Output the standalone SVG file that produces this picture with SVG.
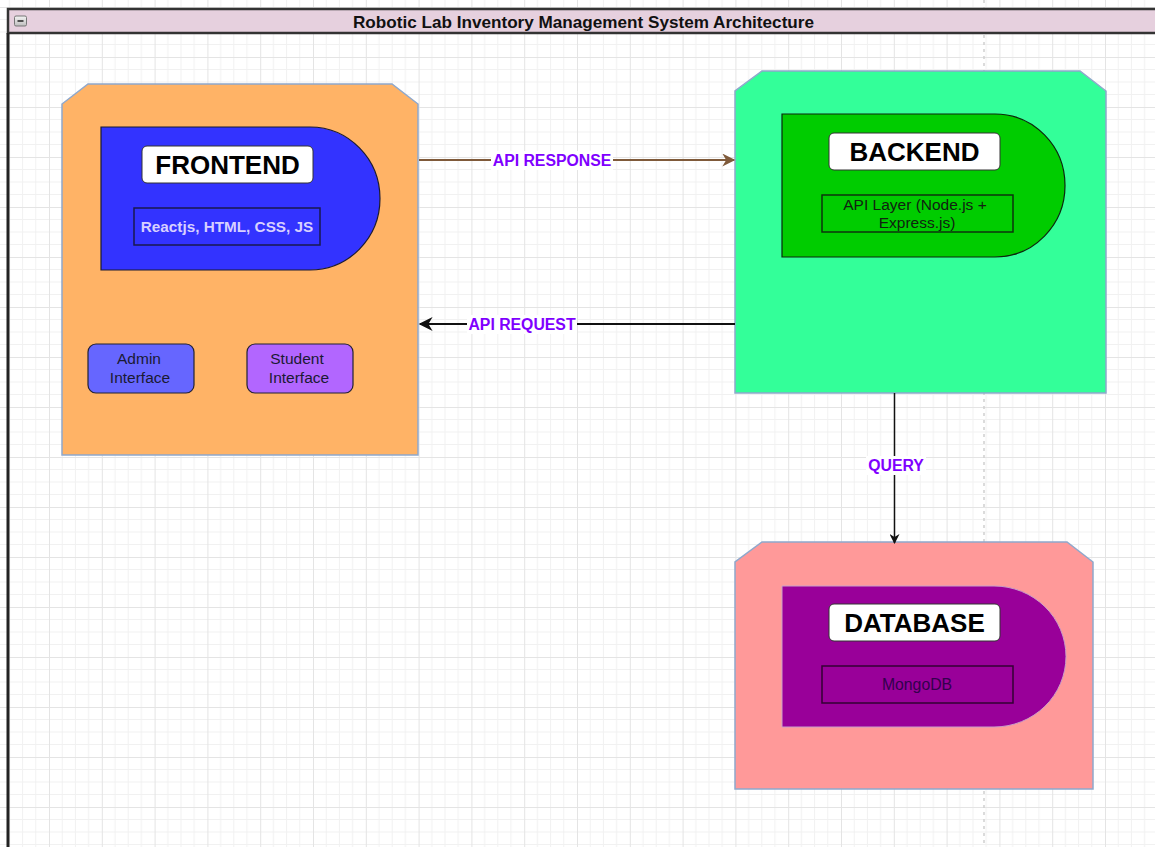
<svg xmlns="http://www.w3.org/2000/svg" width="1155" height="847" viewBox="0 0 1155 847">
<defs>
<style>
.lbl{font-family:"Liberation Sans",Arial,sans-serif}
.outer{stroke:#8fa8cc;stroke-width:1.5}
.head{fill:#ffffff;stroke:#333333;stroke-width:1}
.headtxt{font-family:"Liberation Sans",Arial,sans-serif;font-size:26px;font-weight:bold;fill:#000000;text-anchor:middle}
.edge{font-family:"Liberation Sans",Arial,sans-serif;font-size:15.8px;font-weight:bold;fill:#7f00ff;text-anchor:middle}
.small{font-family:"Liberation Sans",Arial,sans-serif;font-size:15.5px;text-anchor:middle}
</style>
<pattern id="grid" patternUnits="userSpaceOnUse" x="-3.8" y="7" width="52.8" height="50">
<path d="M13.2,0V50M26.4,0V50M39.6,0V50M0,12.5H52.8M0,25H52.8M0,37.5H52.8" stroke="#f1f1f1" stroke-width="1" fill="none"/>
<path d="M0.5,0V50M0,0.5H52.8" stroke="#e4e4e4" stroke-width="1" fill="none"/>
</pattern>
<marker id="arrBrown" viewBox="0 0 10 10" refX="9" refY="5" markerWidth="15" markerHeight="13" markerUnits="userSpaceOnUse" orient="auto">
<path d="M0,0 L10,5 L0,10 L3,5 Z" fill="#7f5a3a"/>
</marker>
<marker id="arrBlack" viewBox="0 0 10 10" refX="9" refY="5" markerWidth="15" markerHeight="14" markerUnits="userSpaceOnUse" orient="auto">
<path d="M0,0 L10,5 L0,10 L3,5 Z" fill="#111111"/>
</marker>
<marker id="arrSmall" viewBox="0 0 10 10" refX="9" refY="5" markerWidth="11" markerHeight="10" markerUnits="userSpaceOnUse" orient="auto">
<path d="M0,0 L10,5 L0,10 L3,5 Z" fill="#111111"/>
</marker>
<linearGradient id="btn" x1="0" y1="0" x2="0" y2="1">
<stop offset="0" stop-color="#f4f4f4"/>
<stop offset="1" stop-color="#bdbdbd"/>
</linearGradient>
</defs>

<rect x="0" y="0" width="1155" height="847" fill="#ffffff"/>
<rect x="0" y="0" width="1155" height="847" fill="url(#grid)"/>
<line x1="984" y1="0" x2="984" y2="847" stroke="#d0d0d0" stroke-width="1.5" stroke-dasharray="3,4"/>

<g id="container">
<rect x="8" y="9" width="1160" height="24" fill="#e6d0de" stroke="#333333" stroke-width="2.5"/>
<line x1="8" y1="33" x2="8" y2="847" stroke="#222222" stroke-width="3"/>
<rect x="14.5" y="16" width="12" height="10" rx="1.5" fill="url(#btn)" stroke="#777777" stroke-width="1"/>
<line x1="17.5" y1="21" x2="23.5" y2="21" stroke="#222222" stroke-width="1.5"/>
<text x="583.5" y="27.5" class="lbl" font-size="16.5" font-weight="bold" fill="#111111" text-anchor="middle" textLength="461" lengthAdjust="spacingAndGlyphs">Robotic Lab Inventory Management System Architecture</text>
</g>

<g id="frontend">
<path class="outer" d="M88,84 H392 L418,104 V455 H62 V104 Z" fill="#ffb366"/>
<path d="M101,127 H310 A70,71.5 0 0 1 310,270 H101 Z" fill="#3333ff" stroke="#1a1a33" stroke-width="1.2"/>
<rect class="head" x="142" y="146" width="171" height="37" rx="5"/>
<text x="227.5" y="174" class="headtxt">FRONTEND</text>
<rect x="134" y="208" width="186" height="37" fill="#3333ff" stroke="#1a1a4d" stroke-width="1.5"/>
<text x="227" y="231.5" class="lbl" font-size="15.3" font-weight="bold" fill="#d8d0ff" text-anchor="middle">Reactjs, HTML, CSS, JS</text>
</g>

<g id="admin-interface">
<rect x="88" y="344" width="106" height="49" rx="8" fill="#6666ff" stroke="#222233" stroke-width="1.2"/>
<text x="139" y="364" class="small" fill="#1a1a33">Admin</text>
<text x="140" y="383" class="small" fill="#1a1a33">Interface</text>
</g>

<g id="student-interface">
<rect x="247" y="344" width="106" height="49" rx="8" fill="#b266ff" stroke="#222233" stroke-width="1.2"/>
<text x="297" y="364" class="small" fill="#1a1a33">Student</text>
<text x="299" y="383" class="small" fill="#1a1a33">Interface</text>
</g>

<g id="backend">
<path class="outer" d="M762,71 H1080 L1106,91 V393 H735 V91 Z" fill="#33ff99"/>
<path d="M782,114 H995 A70,71.5 0 0 1 995,257 H782 Z" fill="#00cc00" stroke="#0d260d" stroke-width="1.2"/>
<rect class="head" x="829" y="133" width="171" height="37" rx="5"/>
<text x="914.5" y="161" class="headtxt">BACKEND</text>
<rect x="822" y="195" width="191" height="37" fill="#00cc00" stroke="#0d330d" stroke-width="1.5"/>
<text x="915" y="210" class="small" fill="#112211">API Layer (Node.js +</text>
<text x="917" y="228" class="small" fill="#112211">Express.js)</text>
</g>

<g id="database">
<path class="outer" d="M762,542 H1067 L1093,562 V789 H735 V562 Z" fill="#ff9999"/>
<path d="M782,586 H994 A72,70.5 0 0 1 994,727 H782 Z" fill="#990099" stroke="#c9a0c8" stroke-width="1"/>
<rect class="head" x="829" y="604" width="171" height="37" rx="5"/>
<text x="914.5" y="632" class="headtxt">DATABASE</text>
<rect x="822" y="666" width="191" height="37" fill="#990099" stroke="#330033" stroke-width="1.5"/>
<text x="917" y="690" class="lbl" font-size="15.8" fill="#33004d" text-anchor="middle">MongoDB</text>
</g>

<g id="connectors">
<line x1="419" y1="160" x2="734" y2="160" stroke="#7f5a3a" stroke-width="2" marker-end="url(#arrBrown)"/>
<rect x="491" y="151" width="122" height="19" fill="#ffffff"/>
<text x="552" y="166" class="edge">API RESPONSE</text>

<line x1="735" y1="324" x2="420" y2="324" stroke="#111111" stroke-width="2" marker-end="url(#arrBlack)"/>
<rect x="467" y="315" width="110" height="19" fill="#ffffff"/>
<text x="522" y="330" class="edge">API REQUEST</text>

<line x1="894.5" y1="393" x2="894.5" y2="543" stroke="#111111" stroke-width="1.5" marker-end="url(#arrSmall)"/>
<rect x="866" y="456" width="60" height="19" fill="#ffffff"/>
<text x="896" y="471" class="edge">QUERY</text>
</g>
</svg>
